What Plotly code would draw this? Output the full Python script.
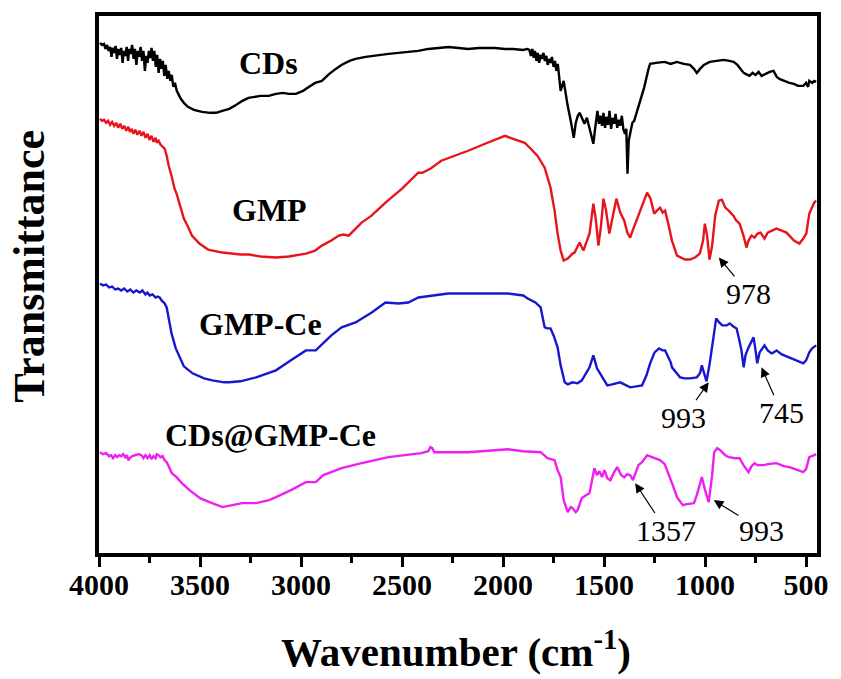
import plotly.graph_objects as go

# ---------------- data (wavenumber in cm-1, relative transmittance, offset curves) ----------------
cds_wn = [3995,3985,3975,3968,3960,3952,3945,3938,3932,3925,3918,3911,3905,3898,3890,3883,3877,3870,3863,3856,
          3850,3843,3836,3829,3822,3815,3808,3801,3794,3787,3780,3773,3766,3760,3753,3746,3740,3733,3726,3719,
          3712,3705,3698,3691,3684,3677,3670,3662,3655,3647,3640,3632,3624,3615,3605,3595,3580,3560,3530,3490,
          3450,3420,3390,3355,3320,3290,3260,3230,3200,3160,3124,3090,3060,3025,2990,2960,2930,2897,2860,2828,
          2800,2760,2730,2680,2620,2567,2518,2469,2420,2370,2320,2270,2220,2173,2120,2080,2040,1991,1950,1900,
          1880,1870,1862,1855,1848,1842,1835,1828,1821,1815,1808,1800,1793,1786,1779,1772,1765,1758,1750,1743,
          1736,1729,1722,1715,1700,1690,1680,1665,1650,1640,1630,1621,1610,1597,1585,1572,1560,1553,1545,1533,
          1525,1518,1510,1503,1495,1488,1480,1473,1465,1458,1450,1443,1435,1428,1420,1412,1404,1396,1390,1384,
          1378,1370,1360,1351,1336,1321,1302,1280,1272,1243,1200,1170,1140,1105,1075,1055,1041,1025,1006,977,
          940,908,880,859,840,820,809,790,780,765,750,735,720,700,680,661,645,632,610,583,
          560,540,514,500,490,484,470,460,450]
cds_t = [511,509,510,505,509,503,507,497,506,501,508,495,505,499,506,491,503,498,507,493,
         505,500,509,495,505,489,503,497,507,493,503,483,498,491,503,496,506,493,503,487,
         499,481,495,485,493,478,489,475,483,473,479,467,471,463,459,455,451,447,444,442,
         441,441,443,445,449,453,456,457,458,458,460,461,460,460,463,467,471,473,480,485,
         489,493,495,497,499,500,501,502,503,505,506,507,506,505,506,506,506,505,505,504,
         505,504,498,505,496,503,493,501,491,499,495,501,493,498,489,495,491,497,487,493,
         483,490,473,463,473,458,448,433,416,431,438,441,436,430,436,426,418,410,424,443,
         430,438,428,441,426,437,429,443,425,436,430,440,426,434,428,438,424,420,425,380,
         413,423,431,433,443,453,466,485,490,491,492,490,492,490,489,485,481,485,489,492,
         493,494,493,492,489,483,481,479,478,481,479,482,478,480,482,483,477,475,473,471,
         470,468,468,471,467,473,471,473,472]

gmp_wn = [3995,3985,3975,3965,3955,3945,3935,3925,3915,3905,3895,3885,3875,3865,3855,3847,3838,3830,3820,3810,
          3800,3790,3780,3770,3760,3750,3740,3730,3720,3714,3705,3695,3685,3675,3665,3655,3641,3626,3616,3600,
          3580,3567,3540,3503,3460,3389,3300,3256,3200,3124,3060,2976,2930,2897,2850,2813,2790,2764,2740,2700,
          2651,2582,2500,2420,2400,2380,2360,2306,2237,2173,2089,2040,1991,1950,1893,1863,1830,1794,1765,1745,
          1730,1715,1700,1680,1656,1646,1630,1621,1612,1602,1590,1572,1553,1540,1528,1515,1503,1490,1474,1455,
          1439,1420,1400,1385,1371,1355,1326,1300,1287,1270,1252,1238,1223,1210,1198,1180,1164,1139,1100,1075,
          1050,1026,1010,1001,990,978,965,950,932,917,900,883,860,845,829,810,795,785,770,755,
          740,725,706,690,670,647,620,597,560,533,514,499,484,460,450]
gmp_t = [435,433,434,431,433,429,432,428,431,426,430,425,428,423,427,422,425,420,424,419,
         423,418,422,416,420,414,418,412,416,411,413,409,407,405,398,388,378,365,360,348,
         335,330,318,310,304,301,299,299,297,296,297,300,303,308,313,318,319,318,323,331,
         338,351,365,381,381,383,385,393,398,403,410,414,418,415,411,405,398,386,366,343,
         320,303,293,295,300,301,307,311,307,303,310,320,350,333,308,328,355,343,320,338,
         355,341,333,321,316,325,340,353,361,355,340,343,346,341,343,328,313,298,294,294,
         296,300,313,330,318,294,308,338,353,354,346,343,338,333,330,318,306,313,318,316,
         320,321,315,321,323,325,323,321,313,310,315,320,340,351,353]

gmpce_wn = [3995,3980,3965,3950,3935,3920,3905,3890,3875,3860,3845,3830,3815,3798,3785,3770,3760,3749,3735,3720,
            3710,3700,3690,3675,3665,3655,3641,3620,3601,3580,3537,3480,3439,3380,3355,3300,3222,3124,3050,2976,
            2927,2900,2850,2799,2730,2650,2582,2518,2469,2419,2355,2272,2173,2089,1976,1900,1878,1840,1814,1794,
            1780,1765,1750,1730,1715,1695,1680,1656,1631,1610,1597,1572,1553,1535,1523,1500,1484,1460,1440,1420,
            1400,1371,1340,1312,1290,1272,1250,1228,1210,1198,1170,1164,1140,1124,1100,1075,1041,1025,1016,1005,
            993,977,955,945,930,915,893,878,860,844,830,820,809,800,785,770,760,750,742,730,
            715,706,690,671,660,647,620,583,550,514,500,484,470,450]
gmpce_t = [270,268,269,266,267,264,265,263,265,262,264,261,263,261,263,259,261,258,259,256,
           257,256,253,250,246,235,220,205,196,187,180,175,173,171,171,172,176,183,193,203,
           203,208,218,226,231,241,251,250,251,256,258,260,260,260,260,258,255,251,246,226,
           225,225,218,206,188,171,169,171,170,173,177,186,198,185,181,173,168,169,170,171,
           169,166,167,168,178,190,201,205,203,203,191,186,180,176,175,175,176,180,188,181,
           172,190,223,235,231,228,228,230,227,225,213,203,186,198,206,213,216,203,190,201,
           206,208,203,200,201,203,199,196,193,190,193,201,205,208]

cdsgmp_wn = [3995,3980,3965,3950,3940,3930,3920,3910,3900,3890,3880,3870,3862,3855,3847,3835,3820,3805,3790,3780,
             3770,3760,3749,3740,3730,3720,3714,3705,3695,3685,3675,3665,3655,3640,3616,3590,3552,3500,3453,3420,
             3389,3340,3291,3222,3158,3124,3050,2976,2927,2890,2799,2700,2567,2405,2370,2360,2350,2340,2321,2173,
             1976,1900,1814,1780,1745,1730,1715,1700,1680,1665,1656,1640,1631,1610,1572,1548,1535,1523,1510,1498,
             1484,1469,1450,1435,1415,1400,1385,1371,1357,1330,1312,1287,1250,1223,1200,1188,1160,1139,1110,1090,
             1055,1041,1016,1000,982,965,955,940,925,900,883,850,829,810,785,770,755,740,706,690,
             660,647,610,583,540,514,500,484,460,450]
cdsgmp_t = [101,99,100,97,98,95,98,96,98,97,99,96,98,93,95,97,98,99,98,95,
            98,95,98,94,97,95,99,98,96,97,93,91,87,80,76,70,63,55,51,48,
            46,48,50,50,53,56,63,71,71,78,85,90,96,100,102,106,105,101,101,101,
            104,102,101,95,93,83,76,53,41,46,45,41,43,55,60,85,78,82,76,83,
            75,73,81,86,78,76,79,78,73,88,91,98,95,93,89,83,68,56,48,49,
            50,58,76,63,51,78,101,105,103,98,96,95,95,88,81,87,90,88,88,89,
            90,90,87,86,83,81,84,96,98,99]

series = [
    ("CDs", cds_wn, cds_t, "#000000"),
    ("GMP", gmp_wn, gmp_t, "#e8141c"),
    ("GMP-Ce", gmpce_wn, gmpce_t, "#1717d0"),
    ("CDs@GMP-Ce", cdsgmp_wn, cdsgmp_t, "#f01ef0"),
]

# curve labels: (text, wavenumber, transmittance)
curve_labels = [("CDs", 3163, 491), ("GMP", 3158, 344), ("GMP-Ce", 3202, 229), ("CDs@GMP-Ce", 3153, 118)]

# peak annotations: (text, text_wn, text_t, arrow_head_wn, arrow_head_t)
peak_notes = [
    ("978", 785, 260, 932, 296),
    ("993", 1105, 136, 982, 171),
    ("745", 622, 141, 721, 186),
    ("1357", 1193, 23, 1346, 70),
    ("993", 721, 23, 957, 53),
]

x_ticks = [4000, 3500, 3000, 2500, 2000, 1500, 1000, 500]
x_minor = [3750, 3250, 2750, 2250, 1750, 1250, 750]

FONT = "Liberation Serif, Times New Roman, serif"

fig = go.Figure()
for name, wn, t, col in series:
    fig.add_trace(go.Scatter(x=wn, y=t, mode="lines", name=name,
                             line=dict(color=col, width=2.4), showlegend=False))

annotations = []
for text, x, y in curve_labels:
    annotations.append(dict(x=x, y=y, xref="x", yref="y", text=text, showarrow=False,
                            font=dict(family=FONT, size=32, color="black", weight="bold")))
for text, tx, ty, hx, hy in peak_notes:
    annotations.append(dict(x=hx, y=hy, xref="x", yref="y", ax=tx, ay=ty, axref="x", ayref="y",
                            text=text, showarrow=True, arrowhead=2, arrowsize=1.6, arrowwidth=1.2,
                            arrowcolor="black", standoff=0, borderpad=0,
                            font=dict(family=FONT, size=30, color="black")))
annotations.append(dict(x=-0.096, y=0.533, xref="paper", yref="paper", text="Transmittance",
                        textangle=-90, showarrow=False, xanchor="center", yanchor="middle",
                        font=dict(family=FONT, size=44, color="black", weight="bold")))
annotations.append(dict(x=0.497, y=-0.178, xref="paper", yref="paper",
                        text="Wavenumber (cm<sup>-1</sup>)", showarrow=False,
                        xanchor="center", yanchor="middle",
                        font=dict(family=FONT, size=41, color="black", weight="bold")))

fig.update_layout(
    width=841, height=679,
    margin=dict(l=99, r=20, t=15, b=126),
    paper_bgcolor="white", plot_bgcolor="white",
    annotations=annotations,
    xaxis=dict(range=[4000, 446], tickvals=x_ticks, ticktext=[str(v) for v in x_ticks],
               ticks="outside", ticklen=10, tickwidth=3, tickcolor="black",
               ticklabelstandoff=-8,
               minor=dict(tickvals=x_minor, ticks="outside",
                          ticklen=6, tickwidth=3, tickcolor="black"),
               showline=True, linewidth=4, linecolor="black", mirror=True,
               showgrid=False, zeroline=False,
               tickfont=dict(family=FONT, size=30, color="black", weight="bold")),
    yaxis=dict(range=[0, 538], showticklabels=False, ticks="",
               showline=True, linewidth=4, linecolor="black", mirror=True,
               showgrid=False, zeroline=False),
)

fig.write_html("out.html")
